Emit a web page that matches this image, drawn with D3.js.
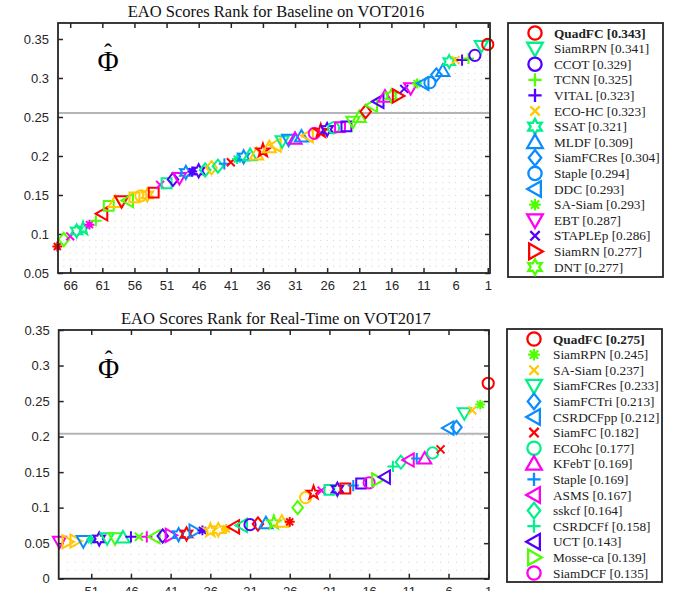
<!DOCTYPE html>
<html>
<head>
<meta charset="utf-8">
<script src="https://cdn.jsdelivr.net/npm/d3@7"></script>
<style>
  body { margin: 0; background: #fff; }
  svg { display: block; }
</style>
</head>
<body>
<svg id="chart" width="673" height="591"></svg>
<script>
// ---- data: VOT2016 baseline (rank 1..68) ----
const baselineScores = [
  0.343, 0.341, 0.329, 0.325, 0.323, 0.323, 0.321, 0.309, 0.304, 0.294,
  0.293, 0.293, 0.287, 0.286, 0.277, 0.277, 0.276, 0.270, 0.265, 0.257,
  0.250, 0.244, 0.238, 0.237, 0.236, 0.234, 0.232, 0.229, 0.226, 0.225,
  0.222, 0.221, 0.219, 0.214, 0.211, 0.207, 0.202, 0.201, 0.199, 0.196,
  0.192, 0.190, 0.187, 0.185, 0.182, 0.181, 0.180, 0.179, 0.172, 0.170,
  0.165, 0.163, 0.153, 0.150, 0.149, 0.147, 0.143, 0.142, 0.141, 0.136,
  0.126, 0.117, 0.112, 0.107, 0.104, 0.097, 0.093, 0.084
];
// marker code: shape + colour letter
const baselineMarkers = [
  "or", "vs", "ob", "+g", "+b", "xy", "hs", "^a", "da", "oa",
  "<a", "*g", "vm", "xb", ">r", "hg", "^m", "<b", "<g", "dr",
  "^g", "vg", "sb", "sm", "os", "hb", "pr", "om", "<y", "^a",
  "^m", "va", "vs", "<y", "^y", "pr", "^y", "^s", "ha", "*s",
  "xr", "+a", "ds", "dy", "ds", "hb", "*b", "ha", "vm", "db",
  "ss", "xm", "sr", "hy", "oy", "sy", "<g", "vr", "^y", "sg",
  "<r", "+g", "*m", "ps", "hs", "xm", "dg", "*r"
];
const baselineNames = [
  "QuadFC", "SiamRPN", "CCOT", "TCNN", "VITAL", "ECO-HC", "SSAT", "MLDF",
  "SiamFCRes", "Staple", "DDC", "SA-Siam", "EBT", "STAPLEp", "SiamRN", "DNT"
];
const baselineYTicks = [0.05, 0.1, 0.15, 0.2, 0.25, 0.3, 0.35];
const baselineXTicks = [66, 61, 56, 51, 46, 41, 36, 31, 26, 21, 16, 11, 6, 1];
const baselineThreshold = 0.255;

// ---- data: VOT2017 real-time (rank 1..55) ----
const realtimeScores = [
  0.275, 0.245, 0.237, 0.233, 0.213, 0.212, 0.182, 0.177, 0.169, 0.169,
  0.167, 0.164, 0.158, 0.143, 0.139, 0.135, 0.134, 0.131, 0.127, 0.126,
  0.125, 0.124, 0.121, 0.114, 0.100, 0.080, 0.080, 0.079, 0.078, 0.077,
  0.076, 0.075, 0.073, 0.070, 0.069, 0.068, 0.068, 0.067, 0.063, 0.062,
  0.061, 0.060, 0.059, 0.059, 0.059, 0.059, 0.058, 0.057, 0.057, 0.056,
  0.055, 0.053, 0.053, 0.052, 0.052
];
const realtimeMarkers = [
  "or", "*g", "xy", "vs", "da", "<a", "xr", "os", "^m", "+a",
  "<m", "ds", "+s", "<b", ">g", "om", "sb", "+a", "sr", "hb",
  "ss", "xm", "pr", "oy", "dg", "*r", "^y", "pg", "^a", "dr",
  "ob", "<s", "<r", "*y", "hy", "py", "*b", ">a", "hr", "ha",
  ">m", "db", "<g", "+m", "xg", "+b", "^s", "vg", "vs", "hb",
  "*s", "va", ">y", ">y", "vm"
];
const realtimeNames = [
  "QuadFC", "SiamRPN", "SA-Siam", "SiamFCRes", "SiamFCTri", "CSRDCFpp", "SiamFC", "ECOhc",
  "KFebT", "Staple", "ASMS", "sskcf", "CSRDCFf", "UCT", "Mosse-ca", "SiamDCF"
];
const realtimeYTicks = [0, 0.05, 0.1, 0.15, 0.2, 0.25, 0.3, 0.35];
const realtimeXTicks = [51, 46, 41, 36, 31, 26, 21, 16, 11, 6, 1];
const realtimeThreshold = 0.204;

const palette = {
  r: "#ff0000", g: "#4dff00", s: "#00f08a", b: "#5200ff",
  a: "#0a8cff", y: "#ffc800", m: "#ff00f0"
};

// outline marker paths centred on 0,0
function markerPath(shape, s) {
  const p = d3.path();
  const poly = pts => { pts.forEach((q, i) => i ? p.lineTo(q[0], q[1]) : p.moveTo(q[0], q[1])); p.closePath(); };
  const star = (n, ro, ri, rot) => {
    const pts = [];
    for (let i = 0; i < 2 * n; i++) {
      const a = rot + i * Math.PI / n, r = i % 2 ? ri : ro;
      pts.push([r * Math.sin(a), -r * Math.cos(a)]);
    }
    poly(pts);
  };
  switch (shape) {
    case "o": p.arc(0, 0, s * 0.85, 0, 2 * Math.PI); break;
    case "s": poly([[-s * 0.75, -s * 0.75], [s * 0.75, -s * 0.75], [s * 0.75, s * 0.75], [-s * 0.75, s * 0.75]]); break;
    case "d": poly([[0, -s], [s * 0.8, 0], [0, s], [-s * 0.8, 0]]); break;
    case "^": poly([[0, -s], [s, s * 0.75], [-s, s * 0.75]]); break;
    case "v": poly([[0, s], [s, -s * 0.75], [-s, -s * 0.75]]); break;
    case "<": poly([[-s, 0], [s * 0.75, -s], [s * 0.75, s]]); break;
    case ">": poly([[s, 0], [-s * 0.75, -s], [-s * 0.75, s]]); break;
    case "+": p.moveTo(-s * 0.85, 0); p.lineTo(s * 0.85, 0); p.moveTo(0, -s * 0.85); p.lineTo(0, s * 0.85); break;
    case "x": p.moveTo(-s * 0.6, -s * 0.6); p.lineTo(s * 0.6, s * 0.6); p.moveTo(s * 0.6, -s * 0.6); p.lineTo(-s * 0.6, s * 0.6); break;
    case "*":
      for (let i = 0; i < 4; i++) {
        const a = i * Math.PI / 4, c = Math.cos(a) * s * 0.75, d = Math.sin(a) * s * 0.75;
        p.moveTo(-c, -d); p.lineTo(c, d);
      }
      break;
    case "p": star(5, s * 1.05, s * 0.42, 0); break;
    case "h": star(6, s, s * 0.55, 0); break;
  }
  return p.toString();
}

const svg = d3.select("#chart");

function drawPanel(opt) {
  const x = d3.scaleLinear().domain(opt.xDomain).range([opt.left, opt.right]);
  const y = d3.scaleLinear().domain(opt.yDomain).range([opt.bottom, opt.top]);
  const g = svg.append("g");
  const ranks = opt.scores.map((v, i) => i + 1);
  const step = Math.abs(x(1) - x(2));

  // title
  g.append("text")
    .attr("x", (opt.left + opt.right) / 2 + 2).attr("y", opt.top - 6)
    .attr("text-anchor", "middle")
    .style("font-family", "'Liberation Serif', 'Times New Roman', serif")
    .style("font-size", "16.5px").attr("fill", "#111")
    .text(opt.title);

  // dotted stems below every point
  g.append("g").selectAll("line").data(ranks).join("line")
    .attr("x1", r => x(r)).attr("x2", r => x(r))
    .attr("y1", opt.bottom).attr("y2", r => y(opt.scores[r - 1]))
    .attr("stroke", "#cfcfcf").attr("stroke-width", 1)
    .attr("stroke-dasharray", `1,${(step - 1).toFixed(2)}`);

  // threshold line
  g.append("line")
    .attr("x1", opt.left).attr("x2", opt.right)
    .attr("y1", y(opt.threshold)).attr("y2", y(opt.threshold))
    .attr("stroke", "#b4b4b4").attr("stroke-width", 2);

  // axes (MATLAB box with inward ticks)
  const axisColor = "#262626";
  const yAxisL = d3.axisLeft(y).tickValues(opt.yTicks).tickSize(-5).tickPadding(9).tickFormat(d => d3.format("")(+d.toFixed(2)));
  const yAxisR = d3.axisRight(y).tickValues(opt.yTicks).tickSize(-5).tickFormat("");
  const xAxisB = d3.axisBottom(x).tickValues(opt.xTicks).tickSize(-5).tickPadding(8);
  const xAxisT = d3.axisTop(x).tickValues(opt.xTicks).tickSize(-5).tickFormat("");
  const styleAxis = sel => {
    sel.select(".domain").remove();
    sel.selectAll(".tick line").attr("stroke", axisColor).attr("stroke-width", 1.5);
    sel.selectAll(".tick text").attr("fill", "#262626")
      .style("font-family", "'Liberation Sans', Arial, sans-serif").style("font-size", "13px");
  };
  g.append("g").attr("transform", `translate(${opt.left},0)`).call(yAxisL).call(styleAxis);
  g.append("g").attr("transform", `translate(${opt.right},0)`).call(yAxisR).call(styleAxis);
  g.append("g").attr("transform", `translate(0,${opt.bottom})`).call(xAxisB).call(styleAxis);
  g.append("g").attr("transform", `translate(0,${opt.top})`).call(xAxisT).call(styleAxis);

  // markers (worst first so the leaders sit on top)
  g.append("g").selectAll("path").data(ranks.slice().reverse()).join("path")
    .attr("transform", r => `translate(${x(r)},${y(opt.scores[r - 1])})`)
    .attr("d", r => markerPath(opt.markers[r - 1][0], 6.6))
    .attr("fill", "none")
    .attr("stroke", r => palette[opt.markers[r - 1][1]])
    .attr("stroke-width", 2).attr("stroke-linejoin", "miter");

  g.append("rect")
    .attr("x", opt.left).attr("y", opt.top)
    .attr("width", opt.right - opt.left).attr("height", opt.bottom - opt.top)
    .attr("fill", "none").attr("stroke", axisColor).attr("stroke-width", 1.8);

  // phi-hat label
  g.append("text").attr("x", opt.left + 50).attr("y", opt.top + 47.5)
    .attr("text-anchor", "middle")
    .style("font-family", "'Liberation Serif', 'Times New Roman', serif").style("font-size", "29px")
    .text("Φ");
  g.append("text").attr("x", opt.left + 50).attr("y", opt.top + 37)
    .attr("text-anchor", "middle")
    .style("font-family", "'Liberation Serif', 'Times New Roman', serif").style("font-size", "24px")
    .text("ˆ");

  // legend
  const lg = g.append("g");
  lg.append("rect")
    .attr("x", opt.legend.x).attr("y", opt.legend.y)
    .attr("width", opt.legend.w).attr("height", opt.legend.h)
    .attr("fill", "#fff").attr("stroke", axisColor).attr("stroke-width", 1.8);
  const rows = lg.selectAll("g.row").data(opt.names).join("g")
    .attr("class", "row")
    .attr("transform", (d, i) => `translate(${opt.legend.x + 27},${opt.legend.y + 10 + i * 15.6})`);
  rows.append("path")
    .attr("d", (d, i) => markerPath(opt.markers[i][0], 7.8))
    .attr("fill", "none")
    .attr("stroke", (d, i) => palette[opt.markers[i][1]])
    .attr("stroke-width", 2.3);
  rows.append("text")
    .attr("x", 19).attr("y", 4.5)
    .style("font-family", "'Liberation Serif', 'Times New Roman', serif").style("font-size", "13.3px")
    .attr("fill", "#222")
    .style("font-weight", (d, i) => i === 0 ? "bold" : "normal")
    .text((d, i) => `${d} [${opt.scores[i].toFixed(3)}]`);
}

drawPanel({
  title: "EAO Scores Rank for Baseline on VOT2016",
  scores: baselineScores, markers: baselineMarkers, names: baselineNames,
  yTicks: baselineYTicks, xTicks: baselineXTicks, threshold: baselineThreshold,
  xDomain: [67.9, 0.65], yDomain: [0.05, 0.3705],
  left: 58, right: 490, top: 23, bottom: 273,
  legend: { x: 508, y: 23, w: 155, h: 254 }
});

drawPanel({
  title: "EAO Scores Rank for Real-Time on VOT2017",
  scores: realtimeScores, markers: realtimeMarkers, names: realtimeNames,
  yTicks: realtimeYTicks, xTicks: realtimeXTicks, threshold: realtimeThreshold,
  xDomain: [55.1, 0.9], yDomain: [0, 0.35],
  left: 58.7, right: 489, top: 330, bottom: 578.7,
  legend: { x: 507, y: 329, w: 155, h: 253 }
});
</script>
</body>
</html>
